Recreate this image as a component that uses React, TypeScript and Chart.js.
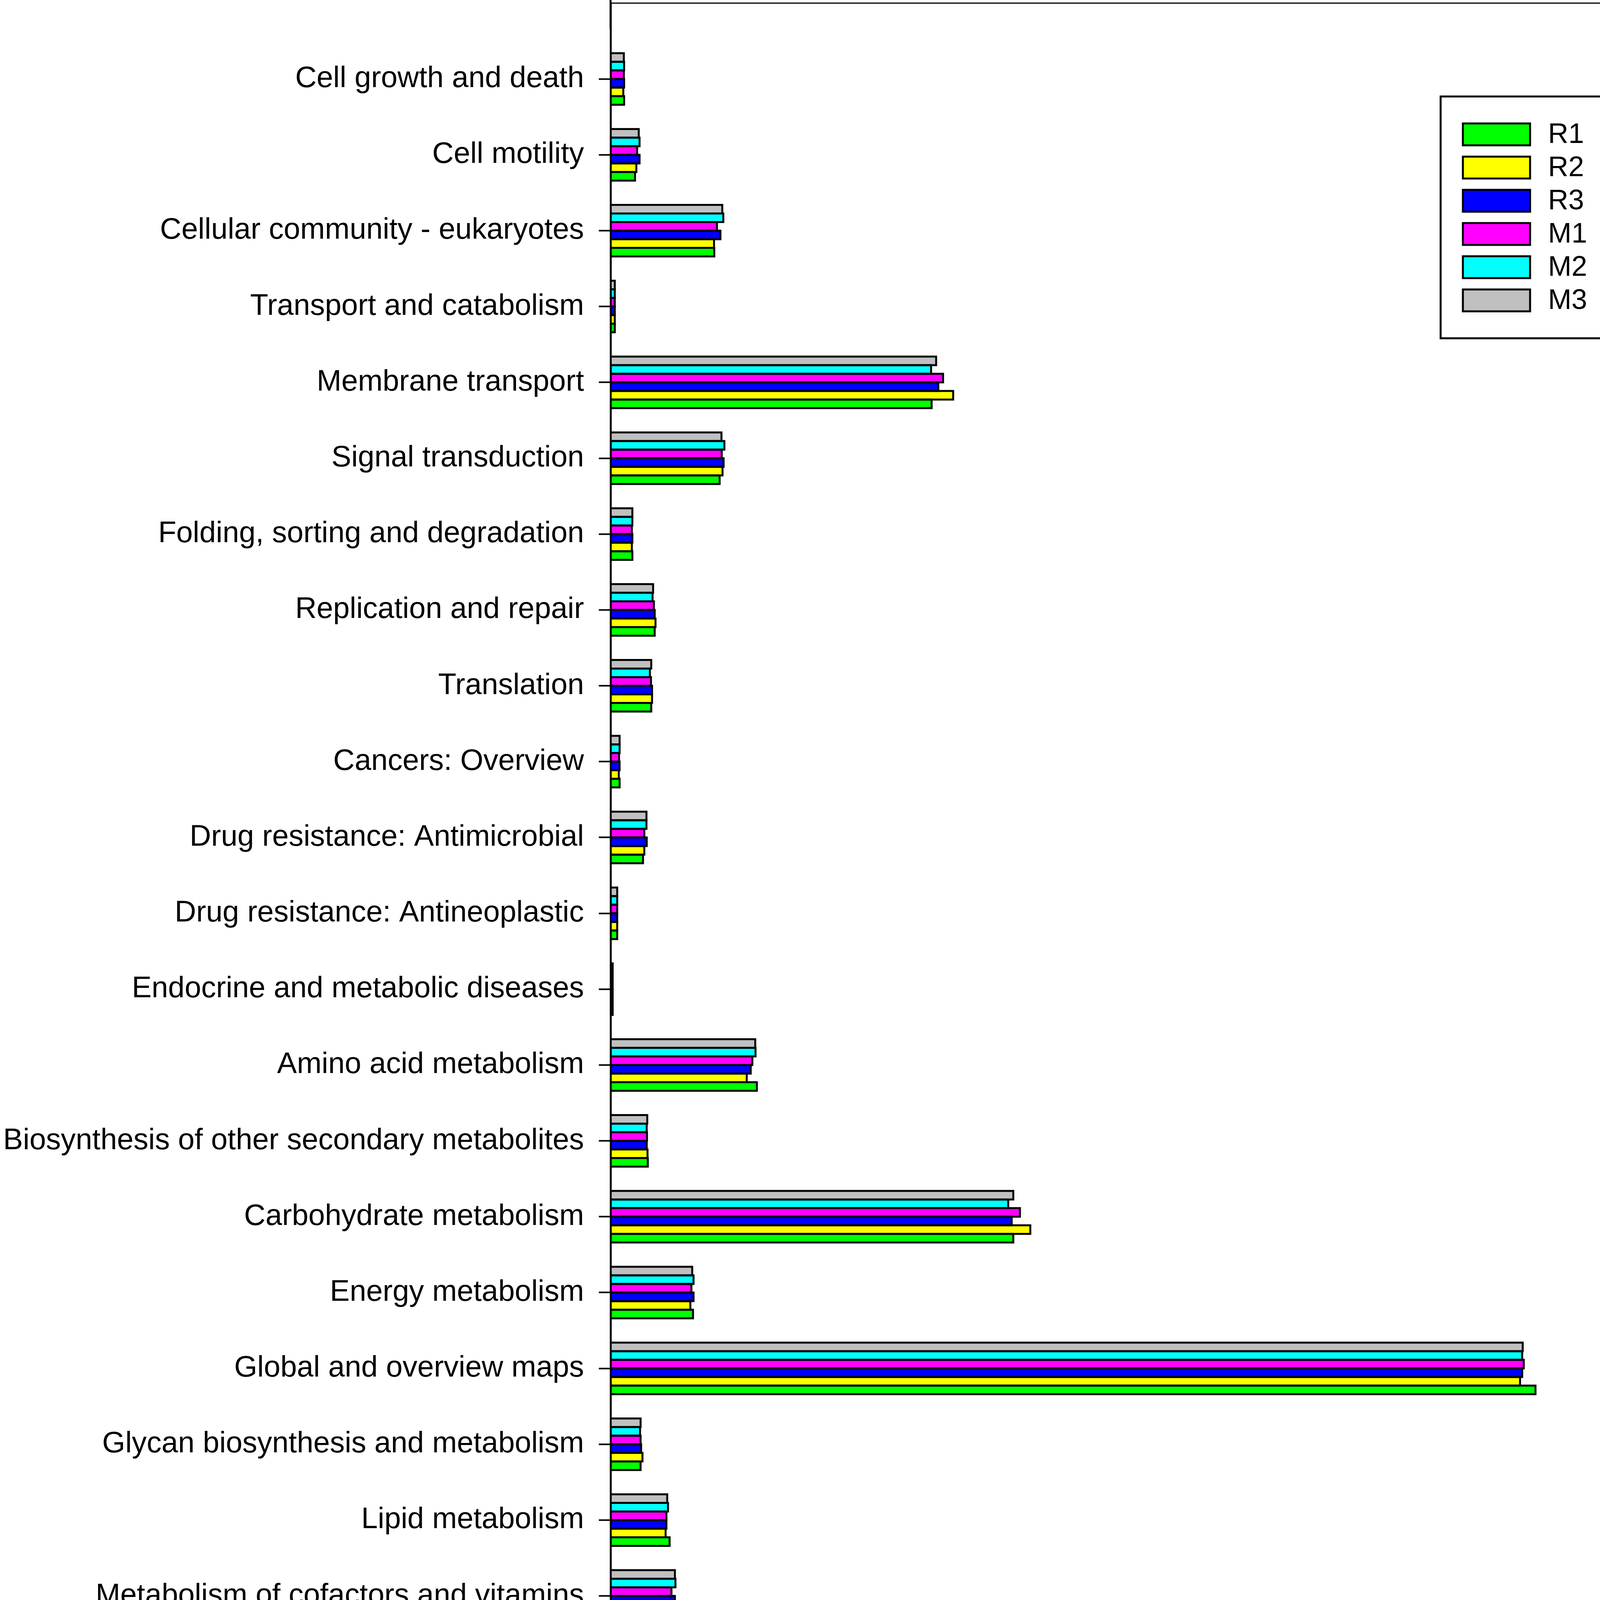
import React, { useEffect, useRef } from 'react';
import { Chart, registerables } from 'chart.js';

Chart.register(...registerables);

const categories = [
  'Cell growth and death',
  'Cell motility',
  'Cellular community - eukaryotes',
  'Transport and catabolism',
  'Membrane transport',
  'Signal transduction',
  'Folding, sorting and degradation',
  'Replication and repair',
  'Translation',
  'Cancers: Overview',
  'Drug resistance: Antimicrobial',
  'Drug resistance: Antineoplastic',
  'Endocrine and metabolic diseases',
  'Amino acid metabolism',
  'Biosynthesis of other secondary metabolites',
  'Carbohydrate metabolism',
  'Energy metabolism',
  'Global and overview maps',
  'Glycan biosynthesis and metabolism',
  'Lipid metabolism',
  'Metabolism of cofactors and vitamins',
  'Metabolism of other amino acids',
  'Metabolism of terpenoids and polyketides',
  'Nucleotide metabolism',
  'Xenobiotics biodegradation and metabolism',
  'Aging',
  'Endocrine system',
  'Environmental adaptation',
];

const R1 = [0.0051, 0.0092, 0.039, 0.0016, 0.1207, 0.041, 0.0082, 0.0166, 0.0153, 0.0034, 0.0122, 0.0025, 0.0008, 0.055, 0.014, 0.1514, 0.031, 0.3477, 0.0113, 0.0222, 0.0235, 0.0127, 0.0087, 0.0227, 0.0158, 0.0024, 0.004, 0.0008];
const R2 = [0.0048, 0.0097, 0.0389, 0.0016, 0.1288, 0.0421, 0.008, 0.0169, 0.0156, 0.0031, 0.0127, 0.0025, 0.0008, 0.0512, 0.0139, 0.1578, 0.03, 0.3419, 0.012, 0.0207, 0.022, 0.0124, 0.0078, 0.0229, 0.0137, 0.0024, 0.0039, 0.0008];
const R3 = [0.0051, 0.0109, 0.0413, 0.0016, 0.1232, 0.0425, 0.0082, 0.0166, 0.0156, 0.0034, 0.0136, 0.0025, 0.0008, 0.0527, 0.0136, 0.1508, 0.0312, 0.3427, 0.0115, 0.021, 0.0242, 0.0129, 0.0082, 0.0229, 0.0143, 0.0024, 0.0038, 0.0008];
const M1 = [0.005, 0.01, 0.04, 0.0016, 0.125, 0.0418, 0.008, 0.0163, 0.0152, 0.0032, 0.0127, 0.0025, 0.0008, 0.0533, 0.0137, 0.1539, 0.0304, 0.3433, 0.0113, 0.021, 0.0229, 0.0127, 0.008, 0.0226, 0.0148, 0.0024, 0.0038, 0.0008];
const M2 = [0.0051, 0.0109, 0.0424, 0.0016, 0.1205, 0.0428, 0.0082, 0.0158, 0.0148, 0.0034, 0.0135, 0.0025, 0.0008, 0.0545, 0.0136, 0.1495, 0.0312, 0.3427, 0.0111, 0.0216, 0.0244, 0.0132, 0.0084, 0.0222, 0.0156, 0.0024, 0.0038, 0.0008];
const M3 = [0.005, 0.0106, 0.042, 0.0016, 0.1224, 0.0417, 0.0082, 0.016, 0.0153, 0.0034, 0.0135, 0.0025, 0.0008, 0.0544, 0.0138, 0.1514, 0.0307, 0.3429, 0.0113, 0.0213, 0.0242, 0.013, 0.0082, 0.0224, 0.0151, 0.0024, 0.0038, 0.0008];

const seriesNames = ['R1', 'R2', 'R3', 'M1', 'M2', 'M3'];
const seriesValues = [R1, R2, R3, M1, M2, M3];
const seriesColors = ['#00ff00', '#ffff00', '#0000ff', '#ff00ff', '#00ffff', '#c0c0c0'];

const xTickLabels = ['0.0', '.1', '.2', '.3', '.4'];
const X_MIN = 0;
const X_MAX = 0.4;
const X_STEP = 0.1;
const xTitle = 'Relative abundance';

const W = 4325;
const H = 5950;
const FONT = '"Liberation Sans", Arial, sans-serif';

// one empty category slot above and below the real ones (axis range 0..n+1)
const paddedLabels = ['', ...categories, ''];
const pad = (arr: number[]) => [null, ...arr, null];

// outlines centred on the bar edges (adjacent bars share one line)
const outlinePlugin = {
  id: 'barOutline',
  afterDatasetsDraw(chart: any) {
    const ctx = chart.ctx;
    ctx.save();
    ctx.strokeStyle = '#000';
    ctx.lineWidth = 5;
    chart.data.datasets.forEach((_d: any, di: number) => {
      const meta = chart.getDatasetMeta(di);
      meta.data.forEach((el: any) => {
        if (el.skip || el.x == null || isNaN(el.x)) return;
        const { x, y, base, height } = el.getProps(['x', 'y', 'base', 'height'], true);
        if (!isFinite(x) || !isFinite(y)) return;
        ctx.strokeRect(base, y - height / 2, x - base, height);
      });
    });
    ctx.restore();
  },
};

const framePlugin = {
  id: 'frame',
  afterDraw(chart: any) {
    const { ctx, chartArea } = chart;
    ctx.save();
    ctx.strokeStyle = '#000';
    ctx.lineWidth = 3;
    ctx.beginPath();
    ctx.moveTo(chartArea.left, chartArea.top);
    ctx.lineTo(chartArea.right, chartArea.top);
    ctx.lineTo(chartArea.right, chartArea.bottom);
    ctx.stroke();
    ctx.restore();
  },
};

const legendPlugin = {
  id: 'boxLegend',
  afterDraw(chart: any) {
    const ctx = chart.ctx;
    const x0 = 3688;
    const y0 = 247;
    const w = 433;
    const h = 619;
    ctx.save();
    ctx.fillStyle = '#fff';
    ctx.fillRect(x0, y0, w, h);
    ctx.lineWidth = 5;
    ctx.strokeStyle = '#000';
    ctx.strokeRect(x0, y0, w, h);
    ctx.font = `72px ${FONT}`;
    ctx.textBaseline = 'middle';
    ctx.textAlign = 'left';
    seriesNames.forEach((name, i) => {
      const ds = chart.data.datasets.find((d: any) => d.label === name);
      const cy = 344 + i * 85;
      ctx.fillStyle = ds.backgroundColor;
      ctx.fillRect(3745, cy - 28, 172, 56);
      ctx.lineWidth = 5;
      ctx.strokeStyle = '#000';
      ctx.strokeRect(3745, cy - 28, 172, 56);
      ctx.fillStyle = '#000';
      ctx.fillText(name, 3963, cy + 2);
    });
    ctx.restore();
  },
};

export default function App() {
  const ref = useRef<HTMLCanvasElement>(null);

  useEffect(() => {
    if (!ref.current) return;
    // drawn top-to-bottom within a group: M3 ... R1
    const order = [5, 4, 3, 2, 1, 0];
    const datasets = order.map((i) => ({
      label: seriesNames[i],
      data: pad(seriesValues[i]),
      backgroundColor: seriesColors[i],
      borderWidth: 0,
      categoryPercentage: 0.68,
      barPercentage: 1,
    }));

    const chart = new Chart(ref.current, {
      type: 'bar',
      data: { labels: paddedLabels, datasets: datasets as any },
      plugins: [outlinePlugin, framePlugin, legendPlugin],
      options: {
        indexAxis: 'y',
        responsive: false,
        maintainAspectRatio: false,
        animation: false,
        devicePixelRatio: 1,
        layout: { padding: { top: 8, right: 38, left: 0, bottom: 0 } },
        plugins: {
          legend: { display: false },
          tooltip: { enabled: false },
          title: { display: false },
        },
        scales: {
          y: {
            type: 'category',
            offset: false,
            grid: {
              offset: false,
              drawOnChartArea: false,
              drawTicks: true,
              tickLength: 30,
              tickWidth: 4,
              tickColor: (c: any) =>
                paddedLabels[c.index] === '' ? 'rgba(0,0,0,0)' : '#000',
            },
            border: { display: true, color: '#000', width: 5 },
            ticks: {
              autoSkip: false,
              color: '#000',
              padding: 38,
              font: { family: FONT, size: 76 },
            },
            afterFit: (s: any) => {
              s.width = 1563;
              s.paddingTop = 0;
              s.paddingBottom = 0;
            },
          },
          x: {
            type: 'linear',
            min: X_MIN,
            max: X_MAX,
            ticks: {
              stepSize: X_STEP,
              color: '#000',
              padding: 36,
              maxRotation: 0,
              font: { family: FONT, size: 76 },
              callback: (_v: any, i: number) => xTickLabels[i],
            },
            grid: {
              drawOnChartArea: false,
              drawTicks: true,
              tickLength: 29,
              tickWidth: 3,
              tickColor: '#000',
            },
            border: { display: true, color: '#000', width: 5 },
            title: {
              display: true,
              text: xTitle,
              color: '#000',
              font: { family: FONT, size: 92, lineHeight: 1 },
              padding: { top: 0, bottom: 0 },
            },
            afterFit: (s: any) => {
              s.height = 311;
              s.paddingLeft = 0;
              s.paddingRight = 0;
            },
          },
        },
      } as any,
    });
    return () => chart.destroy();
  }, []);

  return (
    <div style={{ position: 'absolute', left: 0, top: 0, width: W, height: H, background: '#fff' }}>
      <canvas ref={ref} width={W} height={H} style={{ width: W, height: H, display: 'block' }} />
    </div>
  );
}
